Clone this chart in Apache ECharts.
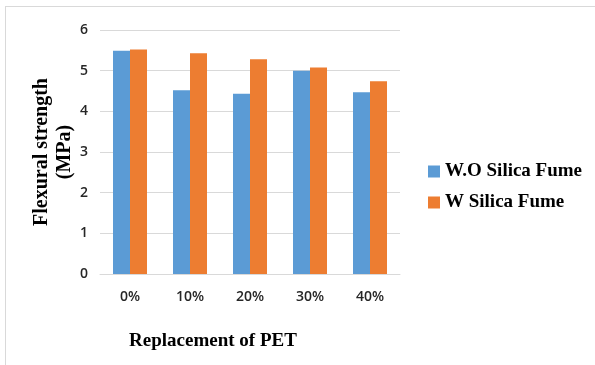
<!DOCTYPE html>
<html>
<head>
<meta charset="utf-8">
<script src="https://cdn.jsdelivr.net/npm/echarts@6/dist/echarts.min.js"></script>
<style>
  html, body { margin: 0; padding: 0; background: #ffffff; }
  #chart { width: 595px; height: 365px; }
</style>
</head>
<body>
<div id="chart"></div>
<script>
// PET replacement levels on the x axis
const categories = ['0%', '10%', '20%', '30%', '40%'];
// Flexural strength (MPa)
const withoutSilicaFume = [5.49, 4.52, 4.43, 5.00, 4.47];
const withSilicaFume = [5.52, 5.43, 5.28, 5.08, 4.74];
const seriesNames = ['W.O Silica Fume', 'W Silica Fume'];
const yTicks = { min: 0, max: 6, interval: 1 };

const serif = '"Liberation Serif", "Times New Roman", serif';
const sans = '"Open Sans", "Liberation Sans", Arial, sans-serif';

const chart = echarts.init(document.getElementById('chart'));
chart.setOption({
  animation: false,
  backgroundColor: '#ffffff',
  grid: { left: 100, right: 195, top: 30, bottom: 91 },
  xAxis: {
    type: 'category',
    data: categories,
    axisLine: { show: true, lineStyle: { color: '#d9d9d9', width: 1 } },
    axisTick: { show: false },
    axisLabel: { color: '#262626', fontFamily: sans, fontSize: 14, fontWeight: 600, margin: 16 },
    name: 'Replacement of PET',
    nameLocation: 'middle',
    nameGap: 58,
    nameTextStyle: { fontFamily: serif, fontWeight: 'bold', fontSize: 19, color: '#000000', padding: [0, 74, 0, 0] }
  },
  yAxis: {
    type: 'value',
    min: yTicks.min,
    max: yTicks.max,
    interval: yTicks.interval,
    axisLine: { show: false },
    axisTick: { show: false },
    splitLine: { lineStyle: { color: '#d9d9d9', width: 1 } },
    axisLabel: { color: '#262626', fontFamily: sans, fontSize: 14, fontWeight: 600, margin: 12 },
    name: 'Flexural strength\n(MPa)',
    nameLocation: 'middle',
    nameMoveOverlap: false,
    nameGap: 24,
    nameRotate: 90,
    nameTextStyle: { fontFamily: serif, fontWeight: 'bold', fontSize: 20, color: '#000000', lineHeight: 23 }
  },
  legend: {
    orient: 'vertical',
    left: 423,
    top: 157,
    itemWidth: 12,
    itemHeight: 12,
    itemGap: 12,
    icon: 'rect',
    textStyle: { fontFamily: serif, fontWeight: 'bold', fontSize: 19, color: '#000000' },
    data: seriesNames
  },
  series: [
    {
      name: seriesNames[0],
      type: 'bar',
      data: withoutSilicaFume,
      barWidth: 17,
      barGap: '0%',
      itemStyle: { color: '#5b9bd5' }
    },
    {
      name: seriesNames[1],
      type: 'bar',
      data: withSilicaFume,
      barWidth: 17,
      barGap: '0%',
      itemStyle: { color: '#ed7d31' }
    }
  ],
  graphic: [
    { type: 'line', shape: { x1: 5, y1: 6.5, x2: 595, y2: 6.5 }, style: { stroke: '#d9d9d9', lineWidth: 1 } },
    { type: 'line', shape: { x1: 5.5, y1: 6, x2: 5.5, y2: 365 }, style: { stroke: '#d9d9d9', lineWidth: 1 } }
  ]
});
</script>
</body>
</html>
